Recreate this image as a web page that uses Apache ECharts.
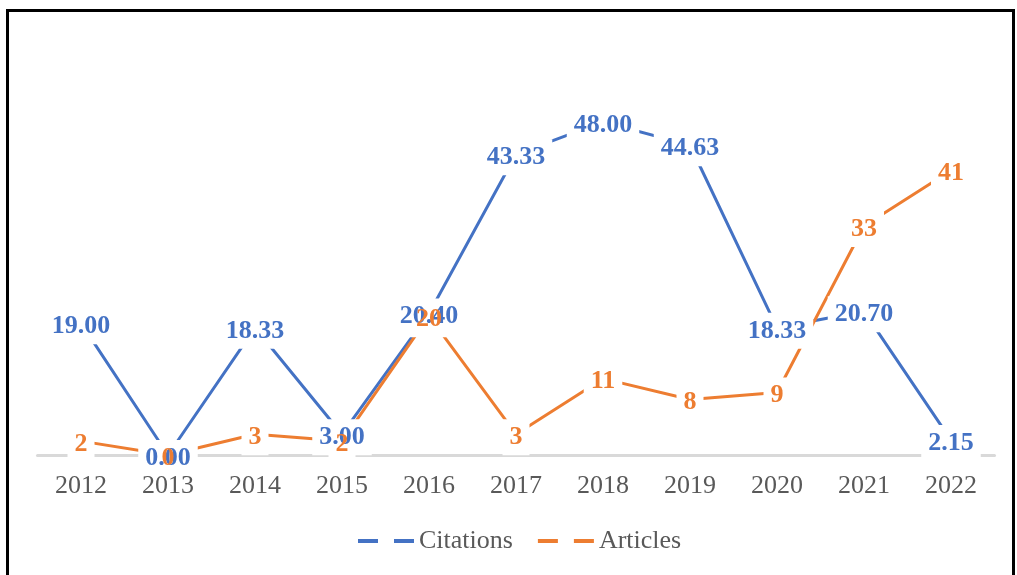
<!DOCTYPE html>
<html>
<head>
<meta charset="utf-8">
<script src="https://cdn.jsdelivr.net/npm/echarts@6/dist/echarts.min.js"></script>
<style>
  html, body { margin: 0; padding: 0; background: #fff; }
  #chart { width: 1017px; height: 575px; }
</style>
</head>
<body>
<div id="chart"></div>
<script>
// data
const years = ["2012", "2013", "2014", "2015", "2016", "2017", "2018", "2019", "2020", "2021", "2022"];
const citations = [19.0, 0.0, 18.33, 3.0, 20.4, 43.33, 48.0, 44.63, 18.33, 20.7, 2.15];
const articles = [2, 0, 3, 2, 20, 3, 11, 8, 9, 33, 41];

const BLUE = "#4472C4";
const ORANGE = "#ED7D31";
const FONT = "'Liberation Serif', 'Times New Roman', serif";

// line only (bottom layer)
function lineSeries(name, data, color) {
  return {
    name: name,
    type: "line",
    z: 1,
    data: data,
    symbol: "none",
    lineStyle: { color: color, width: 3 },
    itemStyle: { color: color },
  };
}

// label layer: white box (cuts the lines) or text only
function labelSeries(name, data, color, z, fmt, box) {
  return {
    name: name,
    type: "line",
    z: z,
    data: data,
    symbol: "circle",
    symbolSize: 1,
    itemStyle: { color: "rgba(0,0,0,0)" },
    lineStyle: { width: 0, opacity: 0 },
    silent: true,
    label: {
      show: true,
      position: "inside",
      offset: [0, 3],
      fontFamily: FONT,
      fontWeight: "bold",
      fontSize: 26,
      color: box ? "rgba(0,0,0,0)" : color,
      backgroundColor: box ? "#fff" : "transparent",
      padding: box ? [5, 7] : 0,
      formatter: (p) => fmt(p.value),
    },
  };
}

const fmtCit = (v) => v.toFixed(2);
const fmtArt = (v) => String(v);

const chart = echarts.init(document.getElementById("chart"));

const option = {
  animation: false,
  backgroundColor: "#fff",
  graphic: [
    {
      type: "rect",
      shape: { x: 7.5, y: 10.5, width: 1006, height: 600 },
      style: { fill: "none", stroke: "#000", lineWidth: 3 },
      z: 100,
    },
  ],
  legend: {
    data: ["Citations", "Articles"],
    left: 353,
    top: 523,
    itemWidth: 56,
    itemHeight: 4,
    itemGap: 25,
    icon: "path://M0,0 h20 v4 h-20 z M36,0 h20 v4 h-20 z",
    textStyle: { fontFamily: FONT, fontSize: 26, color: "#595959" },
  },
  grid: {
    left: 37.5,
    right: 22.5,
    top: 38.6,
    bottom: 120,
  },
  xAxis: {
    type: "category",
    data: years,
    boundaryGap: true,
    axisLine: { show: true, lineStyle: { color: "#D9D9D9", width: 3 } },
    axisTick: { show: false },
    axisLabel: { fontFamily: FONT, fontSize: 26, color: "#595959", margin: 18 },
  },
  yAxis: {
    type: "value",
    min: 0,
    max: 60,
    show: false,
    splitLine: { show: false },
  },
  series: [
    lineSeries("Citations", citations, BLUE),
    lineSeries("Articles", articles, ORANGE),
    labelSeries("Citations box", citations, BLUE, 2, fmtCit, true),
    labelSeries("Articles box", articles, ORANGE, 2, fmtArt, true),
    labelSeries("Citations text", citations, BLUE, 3, fmtCit, false),
    labelSeries("Articles text", articles, ORANGE, 3, fmtArt, false),
  ],
};

chart.setOption(option);
</script>
</body>
</html>
